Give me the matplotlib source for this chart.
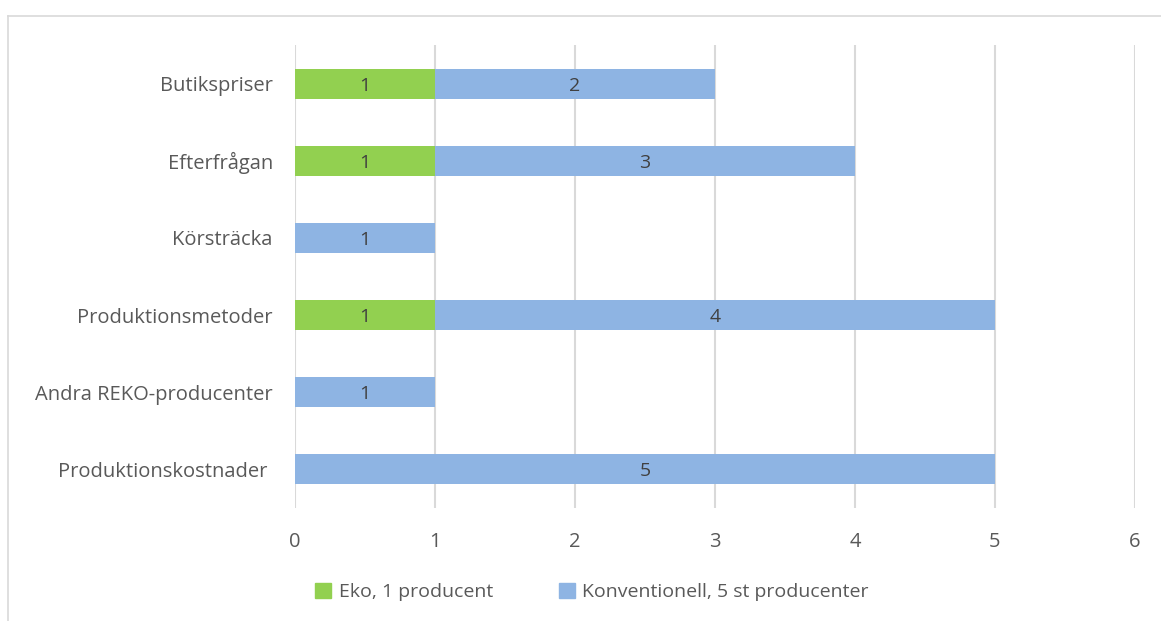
import matplotlib.pyplot as plt
from matplotlib.lines import Line2D
from matplotlib.patches import Patch

plt.rcParams['font.family'] = ['Open Sans', 'DejaVu Sans']

# categories listed bottom to top
kategorier = ['Produktionskostnader ', 'Andra REKO-producenter', 'Produktionsmetoder',
              'Körsträcka', 'Efterfrågan', 'Butikspriser']
eko = [0, 0, 1, 0, 1, 1]
konv = [5, 1, 4, 1, 3, 2]
serier = ['Eko, 1 producent', 'Konventionell, 5 st producenter']
farger = ['#92d050', '#8eb4e3']
textfarg = '#595959'

fig = plt.figure(figsize=(11.61, 6.21), dpi=100)
ax = fig.add_axes([0.2541, 0.182, 0.9776 - 0.2541, 0.9275 - 0.182])

y = range(len(kategorier))
b1 = ax.barh(y, eko, height=0.39, color=farger[0], zorder=3)
b2 = ax.barh(y, konv, left=eko, height=0.39, color=farger[1], zorder=3)

for bars, vals in ((b1, eko), (b2, konv)):
    for rect, v in zip(bars, vals):
        if v == 0:
            continue
        ax.text(rect.get_x() + rect.get_width() / 2, rect.get_y() + rect.get_height() / 2,
                str(v), ha='center', va='center_baseline', fontsize=14, color='#404040', zorder=4)

ax.set_xlim(0, 6)
ax.set_ylim(-0.5, 5.5)
ax.set_xticks(range(7))
ax.set_yticks(list(y))
ax.set_yticklabels(kategorier)
ax.grid(axis='x', color='#d9d9d9', linewidth=1.5, zorder=0)
ax.tick_params(length=0, labelsize=14.5, labelcolor=textfarg)
ax.tick_params(axis='y', pad=16)
ax.tick_params(axis='x', pad=17)
for s in ax.spines.values():
    s.set_visible(False)

handles = [Patch(color=c) for c in farger]
fig.legend(handles, serier, loc='center', bbox_to_anchor=(0.510, 0.047), ncol=2,
           frameon=False, fontsize=14, labelcolor=textfarg, handlelength=0.8,
           handleheight=0.8, handletextpad=0.4, columnspacing=3.4)

# chart border (top and left edge)
fig.add_artist(Line2D([8 / 1161, 1], [1 - 16 / 621, 1 - 16 / 621], color='#d9d9d9', lw=1.2))
fig.add_artist(Line2D([8 / 1161, 8 / 1161], [0, 1 - 16 / 621], color='#d9d9d9', lw=1.2))

fig.savefig('out.png', dpi=100)
